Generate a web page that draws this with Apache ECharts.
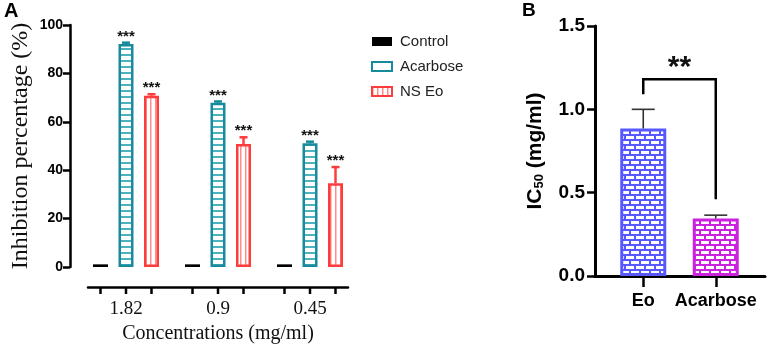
<!DOCTYPE html>
<html>
<head>
<meta charset="utf-8">
<script src="https://cdn.jsdelivr.net/npm/echarts@6/dist/echarts.min.js"></script>
<style>
html, body { margin: 0; padding: 0; background: #fff; }
#main { width: 768px; height: 349px; }
</style>
</head>
<body>
<div id="main"></div>
<script>
// Panel A data
var concentrations = ['1.82', '0.9', '0.45'];
var controlValues = [1.1, 1.1, 1.1];
var acarboseValues = [92.1, 67.9, 51.1];
var acarboseErrors = [0.6, 0.5, 0.7];
var nsEoValues = [70.8, 50.8, 34.6];
var nsEoErrors = [0.6, 2.8, 6.7];
var starsA = ['***', '***', '***'];

// Panel B data
var ic50Names = ['Eo', 'Acarbose'];
var ic50Values = [0.885, 0.345];
var ic50Errors = [0.115, 0.02];
// from, to, left leg end, bracket top, right leg end, label
var sigBracket = [0, 1, 1.09, 1.18, 0.46, '**'];

var SERIF = '"Liberation Serif", "Times New Roman", serif';
var SANS = '"Liberation Sans", Arial, sans-serif';
var TEAL = '#178b9b';
var RED = '#ff3c3c';
var BLUE = '#5858ff';
var MAGENTA = '#cc22e0';

function hStripes(line) {
    var c = document.createElement('canvas');
    c.width = 4; c.height = 6;
    var g = c.getContext('2d');
    g.fillStyle = '#fff'; g.fillRect(0, 0, 4, 6);
    g.fillStyle = line; g.fillRect(0, 0, 4, 2);
    return { image: c, repeat: 'repeat' };
}
function vStripes(line) {
    var c = document.createElement('canvas');
    c.width = 5; c.height = 4;
    var g = c.getContext('2d');
    g.fillStyle = '#fff'; g.fillRect(0, 0, 5, 4);
    g.fillStyle = line; g.fillRect(0, 0, 1.5, 4);
    return { image: c, repeat: 'repeat' };
}
function bricks(mortar) {
    var c = document.createElement('canvas');
    c.width = 10; c.height = 10;
    var g = c.getContext('2d');
    g.fillStyle = mortar; g.fillRect(0, 0, 10, 10);
    g.fillStyle = '#fff';
    g.fillRect(1, 1, 8, 3);
    g.fillRect(0, 6, 4, 3);
    g.fillRect(6, 6, 4, 3);
    return { image: c, repeat: 'repeat' };
}

var BAR_W = 15, BAR_GAP = 0.7;
var STEP = BAR_W * (1 + BAR_GAP);

function errorRenderer(offset, color, capHalf, width, stars, starFont) {
    return function (params, api) {
        var i = api.value(0), v = api.value(1), e = api.value(2);
        var base = api.coord([i, v]);
        var top = api.coord([i, v + e]);
        var x = base[0] + offset;
        var kids = [];
        if (e > 0) {
            kids.push({ type: 'line', shape: { x1: x, y1: base[1], x2: x, y2: top[1] },
                style: { stroke: color, lineWidth: width } });
            kids.push({ type: 'line', shape: { x1: x - capHalf, y1: top[1], x2: x + capHalf, y2: top[1] },
                style: { stroke: color, lineWidth: width } });
        }
        if (stars) {
            kids.push({ type: 'text', style: { text: stars[params.dataIndex], x: x, y: top[1] - 6,
                align: 'center', verticalAlign: 'middle', font: starFont, fill: '#111' } });
        }
        return { type: 'group', children: kids };
    };
}

var dom = document.getElementById('main');
var myChart = echarts.init(dom, null, { renderer: 'canvas' });

var option = {
    animation: false,
    backgroundColor: '#fff',
    graphic: [
        { type: 'text', left: 4, top: 1, style: { text: 'A', font: 'bold 20px ' + SANS, fill: '#000' } },
        { type: 'text', left: 522, top: 1, style: { text: 'B', font: 'bold 19px ' + SANS, fill: '#000' } }
    ],
    legend: {
        orient: 'vertical',
        left: 366,
        top: 29,
        itemWidth: 20,
        itemHeight: 9,
        itemGap: 10,
        icon: 'rect',
        textStyle: { fontFamily: SANS, fontSize: 15, color: '#222', padding: [0, 0, 0, 3] },
        data: [
            { name: 'Control' },
            { name: 'Acarbose', itemStyle: { color: '#fff' } },
            { name: 'NS Eo' }
        ]
    },
    grid: [
        { left: 80, right: 412, top: 25, bottom: 82 },
        { left: 88, right: 420, top: 25, bottom: 82 },
        { left: 607, right: 16, top: 26, bottom: 73 },
        { left: 595, right: 3, top: 26, bottom: 73 }
    ],
    xAxis: [
        {
            gridIndex: 0, type: 'category', data: concentrations, offset: 20,
            axisLine: { show: false }, axisTick: { show: false },
            axisLabel: { fontFamily: SERIF, fontSize: 19, color: '#111', margin: 13 },
            name: 'Concentrations (mg/ml)', nameLocation: 'middle', nameGap: 36,
            nameTextStyle: { fontFamily: SERIF, fontSize: 20, color: '#111' }
        },
        {
            gridIndex: 1, type: 'value', min: 0, max: 1, offset: 20,
            axisLine: { show: true, onZero: false, lineStyle: { color: '#000', width: 2.5 } },
            axisTick: { show: false }, axisLabel: { show: false }, splitLine: { show: false }
        },
        {
            gridIndex: 2, type: 'category', data: ic50Names,
            axisLine: { show: false },
            axisTick: { show: true, alignWithLabel: true, length: 11, lineStyle: { color: '#000', width: 2.5 } },
            axisLabel: { fontFamily: SANS, fontWeight: 'bold', fontSize: 18, color: '#000', margin: 16, interval: 0 }
        },
        {
            gridIndex: 3, type: 'value', min: 0, max: 1,
            axisLine: { show: true, onZero: false, lineStyle: { color: '#000', width: 3 } },
            axisTick: { show: false }, axisLabel: { show: false }, splitLine: { show: false }
        }
    ],
    yAxis: [
        {
            gridIndex: 0, type: 'value', min: 0, max: 100, interval: 20, offset: 10,
            axisLine: { show: true, lineStyle: { color: '#000', width: 2.5 } },
            axisTick: { show: true, length: 7, lineStyle: { color: '#000', width: 2.5 } },
            axisLabel: { fontFamily: SANS, fontWeight: 'bold', fontSize: 14, color: '#000', margin: 7 },
            splitLine: { show: false },
            name: 'Inhibition percentage (%)', nameLocation: 'middle', nameGap: 37,
            nameTextStyle: { fontFamily: SERIF, fontSize: 24, color: '#111' }
        },
        { gridIndex: 1, type: 'value', min: 0, max: 100, show: false },
        {
            gridIndex: 2, type: 'value', min: 0, max: 1.5, interval: 0.5, offset: 12,
            axisLine: { show: true, lineStyle: { color: '#000', width: 3 } },
            axisTick: { show: true, length: 8, lineStyle: { color: '#000', width: 2.5 } },
            axisLabel: { fontFamily: SANS, fontWeight: 'bold', fontSize: 19, color: '#000', margin: 10,
                formatter: function (v) { return v.toFixed(1); } },
            splitLine: { show: false },
            name: '{a|IC}{s|50}{a| (mg/ml)}', nameLocation: 'middle', nameGap: 49,
            nameTextStyle: {
                rich: {
                    a: { fontFamily: SANS, fontWeight: 'bold', fontSize: 21, color: '#000' },
                    s: { fontFamily: SANS, fontWeight: 'bold', fontSize: 13, color: '#000', verticalAlign: 'bottom', padding: [8, 0, 0, 0] }
                }
            }
        },
        { gridIndex: 3, type: 'value', min: 0, max: 1, show: false }
    ],
    series: [
        {
            name: 'Control', type: 'bar', xAxisIndex: 0, yAxisIndex: 0,
            barWidth: BAR_W, barGap: (BAR_GAP * 100) + '%',
            itemStyle: { color: '#000' },
            data: controlValues
        },
        {
            name: 'Acarbose', type: 'bar', xAxisIndex: 0, yAxisIndex: 0,
            barWidth: BAR_W, barGap: (BAR_GAP * 100) + '%',
            itemStyle: { color: hStripes('#4fb2c0'), borderColor: TEAL, borderWidth: 2.5 },
            data: acarboseValues
        },
        {
            name: 'NS Eo', type: 'bar', xAxisIndex: 0, yAxisIndex: 0,
            barWidth: BAR_W, barGap: (BAR_GAP * 100) + '%',
            itemStyle: { color: vStripes('#ff8c8c'), borderColor: RED, borderWidth: 2.5 },
            data: nsEoValues
        },
        {
            type: 'custom', xAxisIndex: 0, yAxisIndex: 0, clip: false, silent: true, z: 5,
            renderItem: errorRenderer(0, TEAL, 4, 2.5, starsA, 'bold 15px ' + SANS),
            data: acarboseValues.map(function (v, i) { return [i, v, acarboseErrors[i]]; })
        },
        {
            type: 'custom', xAxisIndex: 0, yAxisIndex: 0, clip: false, silent: true, z: 5,
            renderItem: errorRenderer(STEP, RED, 4, 2.5, starsA, 'bold 15px ' + SANS),
            data: nsEoValues.map(function (v, i) { return [i, v, nsEoErrors[i]]; })
        },
        {
            // tick marks under each bar of panel A
            type: 'custom', xAxisIndex: 0, yAxisIndex: 0, clip: false, silent: true,
            renderItem: function (params, api) {
                var c = api.coord([api.value(0), 0]);
                var kids = [-STEP, 0, STEP].map(function (o) {
                    return { type: 'line', shape: { x1: c[0] + o, y1: c[1] + 20, x2: c[0] + o, y2: c[1] + 27 },
                        style: { stroke: '#000', lineWidth: 2.5 } };
                });
                return { type: 'group', children: kids };
            },
            data: concentrations.map(function (c, i) { return [i, 0]; })
        },
        {
            type: 'bar', xAxisIndex: 2, yAxisIndex: 2, barWidth: 46,
            data: ic50Values.map(function (v, i) {
                var col = i === 0 ? BLUE : MAGENTA;
                return { value: v, itemStyle: { color: bricks(col), borderColor: col, borderWidth: 3 } };
            })
        },
        {
            type: 'custom', xAxisIndex: 2, yAxisIndex: 2, clip: false, silent: true, z: 5,
            renderItem: errorRenderer(0, '#333', 11.5, 1.6, null, null),
            data: ic50Values.map(function (v, i) { return [i, v, ic50Errors[i]]; })
        },
        {
            type: 'custom', xAxisIndex: 2, yAxisIndex: 2, clip: false, silent: true, z: 5,
            renderItem: function (params, api) {
                var p0 = api.coord([api.value(0), api.value(2)]);
                var t0 = api.coord([api.value(0), api.value(3)]);
                var t1 = api.coord([api.value(1), api.value(3)]);
                var p1 = api.coord([api.value(1), api.value(4)]);
                return { type: 'group', children: [
                    { type: 'polyline', shape: { points: [p0, t0, t1, p1] },
                        style: { stroke: '#000', lineWidth: 2.5, fill: null } },
                    { type: 'text', style: { text: sigBracket[5], x: (t0[0] + t1[0]) / 2, y: t0[1] - 12,
                        align: 'center', verticalAlign: 'middle', font: 'bold 30px ' + SANS, fill: '#111' } }
                ] };
            },
            data: [sigBracket.slice(0, 5)]
        }
    ]
};

if (option && typeof option === 'object') {
    myChart.setOption(option, true);
}
</script>
</body>
</html>
